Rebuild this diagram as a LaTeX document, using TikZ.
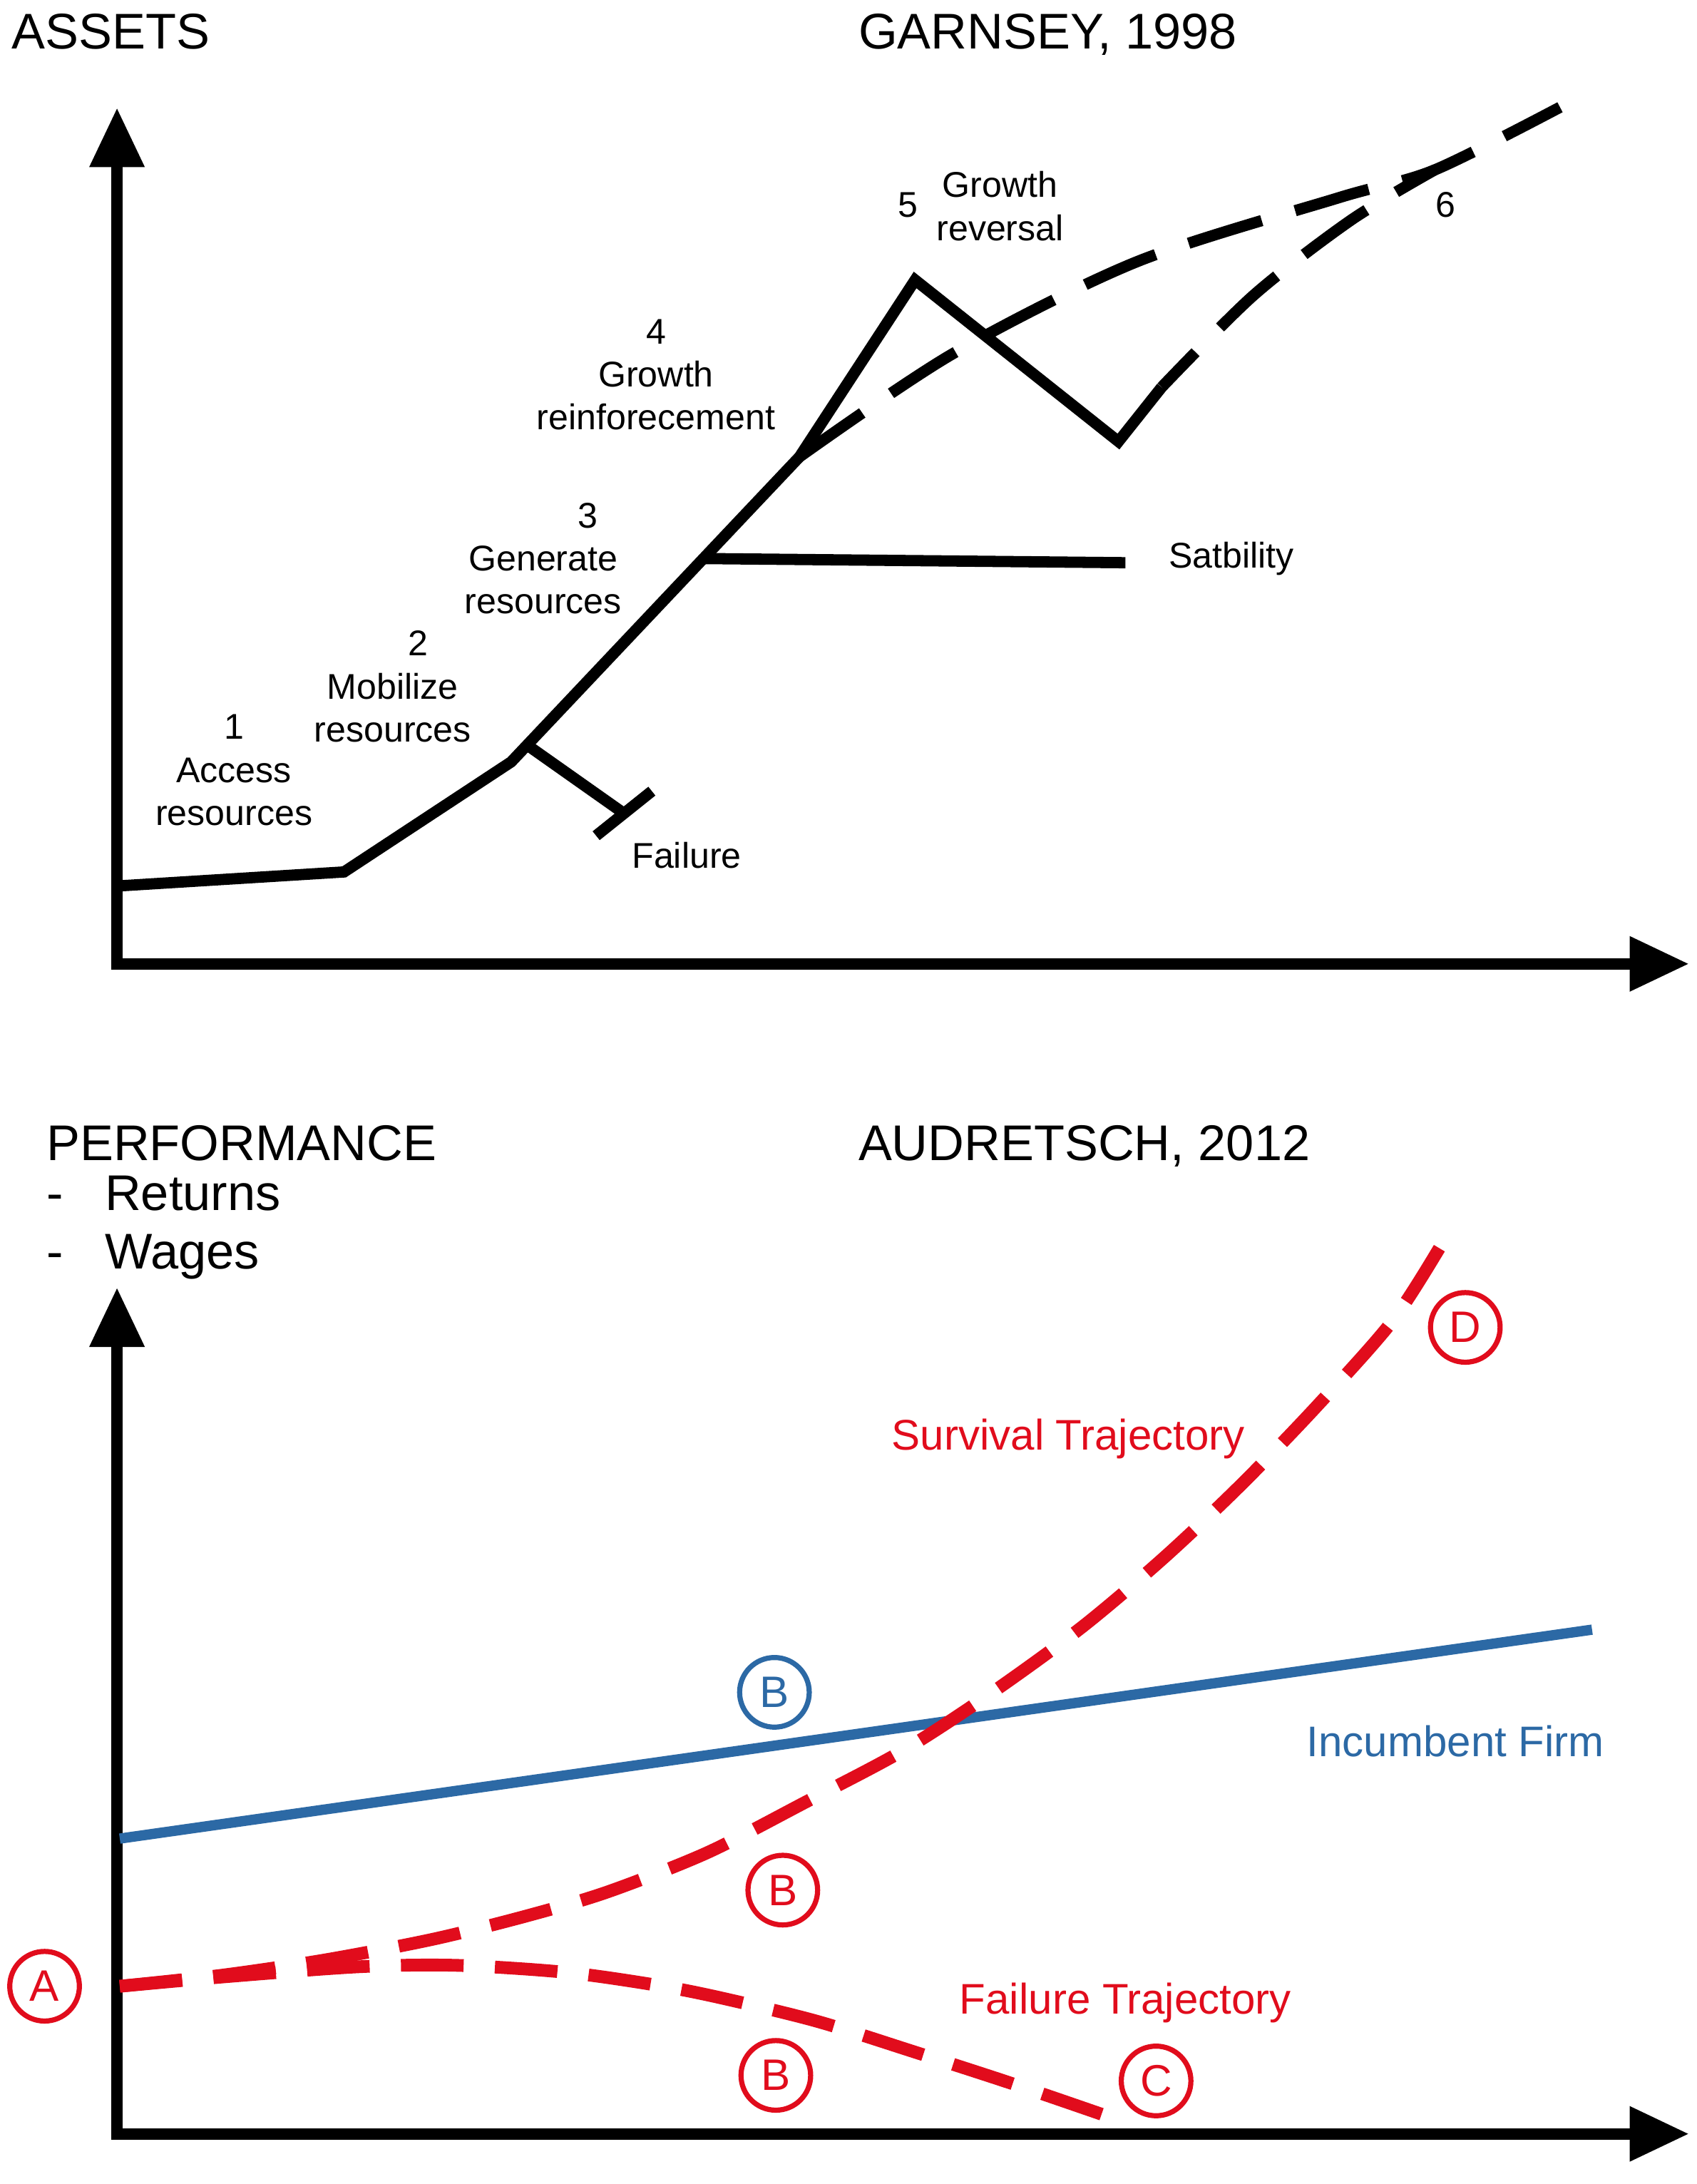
\documentclass[tikz,border=0pt]{standalone}
\usepackage{fontspec}
\setmainfont{Liberation Sans}
\definecolor{cred}{RGB}{225,12,28}
\definecolor{cblue}{RGB}{44,105,165}
\begin{document}
\begin{tikzpicture}[x=0.02cm,y=-0.02cm,
 head/.style={font=\fontsize{20.5}{24}\selectfont, anchor=base west, inner sep=0},
 lbl/.style={font=\fontsize{14.6}{17.6}\selectfont, align=center, inner sep=0},
 rlbl/.style={font=\fontsize{17.5}{21}\selectfont, inner sep=0},
 axisline/.style={line width=4.6pt, line join=miter},
 curve/.style={line width=4.6pt, line join=miter},
 dashcurve/.style={line width=4.6pt, dash pattern=on 1.1cm off 0.5cm},
 rdash/.style={cred, line width=5.2pt, dash pattern=on 0.9cm off 0.45cm},
 circ/.style={circle, draw, line width=2.1pt, minimum size=1cm, inner sep=0, font=\fontsize{18}{20}\selectfont},
]
\useasboundingbox (0,0) rectangle (1218,1568);

% ---------- top chart ----------
\node[head] (assets) at (8,35) {ASSETS};
\node[head] (garnsey) at (616,35) {GARNSEY, 1998};

\draw[axisline] (84,118) -- (84,692) -- (1172,692);
\fill (64,120) -- (84,78) -- (104,120) -- cycle;
\fill (1170,672) -- (1212,692) -- (1170,712) -- cycle;

\draw[curve] (86,636) -- (247,626) -- (367,547) -- (539,365) -- (574,328) -- (657,201) -- (803,317) -- (834,278);
\draw[dashcurve] plot[smooth] coordinates {(574,328) (684,254) (816,188) (961,142) (1030,122) (1120,77)};
\draw[dashcurve, dash phase=0.4cm] plot[smooth] coordinates {(834,278) (900,212) (970,158) (1030,122)};

\draw[curve] (505,401) -- (808,404);
\draw[curve] (380,536) -- (448,584);
\draw[curve] (428,600) -- (468,568);

\node[lbl] (l1) at (168,553) {1\\Access\\resources};
\node[lbl] (l2) at (282,493) {\hspace*{20.5pt}2\\Mobilize\\resources};
\node[lbl] (l3) at (390,401) {\hspace*{36.4pt}3\\Generate\\resources};
\node[lbl] (l4) at (471,269) {4\\Growth\\reinforecement};
\node[lbl] (l5) at (652,147) {5};
\node[lbl] (l5b) at (718,148) {Growth\\reversal};
\node[lbl] (l6) at (1038,147) {6};
\node[lbl] (stab) at (884,401) {Satbility};
\node[lbl] (fail) at (493,614) {Failure};

% ---------- bottom chart ----------
\node[head] (perf) at (33,833) {PERFORMANCE};
\node[head] (d1) at (33,869) {-};
\node[head] (ret) at (75,869) {Returns};
\node[head] (d2) at (33,911) {-};
\node[head] (wag) at (75,911) {Wages};
\node[head] (aud) at (616,833) {AUDRETSCH, 2012};

\draw[axisline] (84,965) -- (84,1532) -- (1172,1532);
\fill (64,967) -- (84,925) -- (104,967) -- cycle;
\fill (1170,1512) -- (1212,1532) -- (1170,1552) -- cycle;

\draw[cblue, line width=4.2pt] (86,1320) -- (1143,1170);

\draw[rdash] plot[smooth] coordinates {(86,1426) (160,1418) (234,1407) (312,1392) (380,1375) (437,1358) (508,1330) (578,1294) (648,1257) (711,1216) (777,1168) (836,1118) (891,1066) (945,1010) (1000,948) (1037,890)};
\draw[rdash] plot[smooth] coordinates {(86,1426) (164,1419) (258,1412) (328,1411) (406,1416) (470,1425) (516,1434) (586,1451) (656,1473) (727,1496) (797,1520)};

\node[circ, cblue, text=cblue] (bb) at (556,1215) {B};
\node[circ, cred, text=cred] (ca) at (32,1426) {A};
\node[circ, cred, text=cred] (cb1) at (562,1357) {B};
\node[circ, cred, text=cred] (cb2) at (557,1490) {B};
\node[circ, cred, text=cred] (cc) at (830,1494) {C};
\node[circ, cred, text=cred] (cd) at (1052,953) {D};

\node[rlbl, text=cred] (surv) at (767,1033) {Survival Trajectory};
\node[rlbl, text=cred] (failt) at (808,1438) {Failure Trajectory};
\node[rlbl, text=cblue] (inc) at (1045,1250) {Incumbent Firm};
\end{tikzpicture}
\end{document}
